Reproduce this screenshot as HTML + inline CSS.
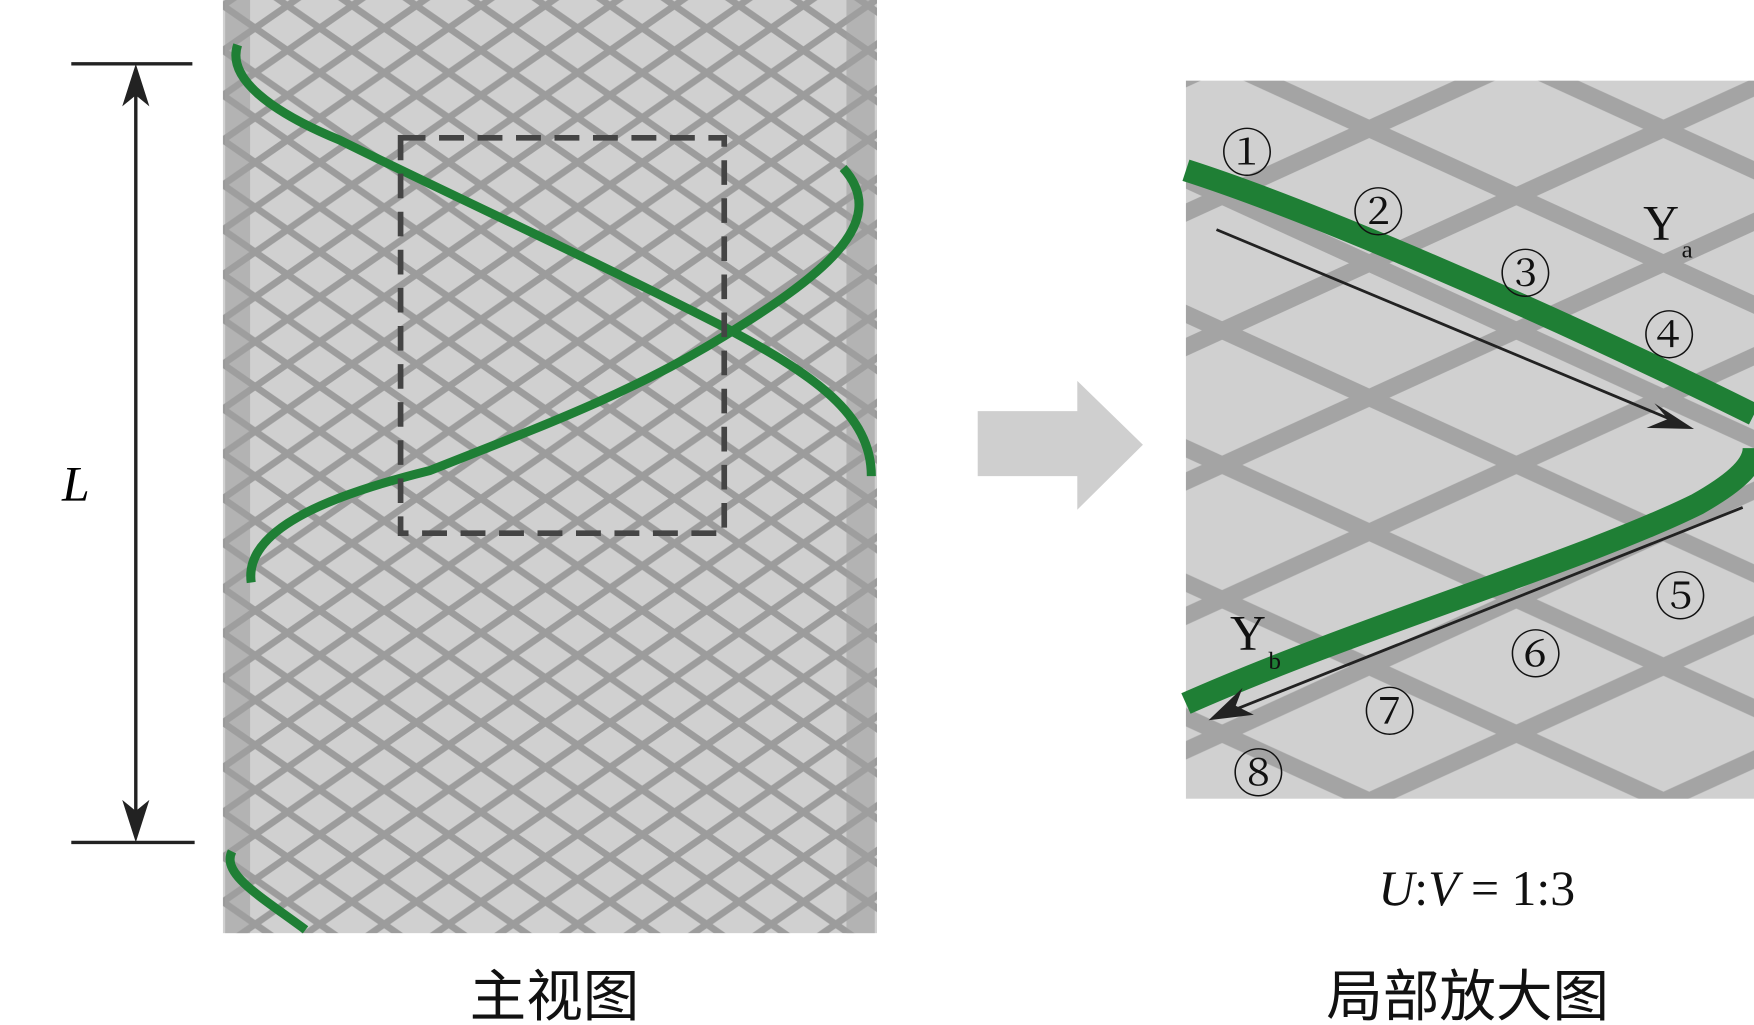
<!DOCTYPE html>
<html><head><meta charset="utf-8"><style>html,body{margin:0;padding:0;background:#fff}svg{display:block}</style></head>
<body>
<svg width="1754" height="1025" viewBox="0 0 1550 915" preserveAspectRatio="none" xmlns="http://www.w3.org/2000/svg">
<defs>
<pattern id="m1" patternUnits="userSpaceOnUse" x="197" y="5" width="57" height="40">
<rect width="57" height="40" fill="#d0d0d0"/>
<g stroke="#9c9c9c" stroke-width="6">
<line x1="-28.5" y1="-20" x2="85.5" y2="60"/><line x1="-28.5" y1="60" x2="85.5" y2="-20"/>
<line x1="-28.5" y1="20" x2="28.5" y2="60"/><line x1="28.5" y1="-20" x2="85.5" y2="20"/>
<line x1="-28.5" y1="20" x2="28.5" y2="-20"/><line x1="28.5" y1="60" x2="85.5" y2="20"/>
</g></pattern>
<pattern id="m2" patternUnits="userSpaceOnUse" x="1080" y="55" width="260" height="120">
<rect width="260" height="120" fill="#d0d0d0"/>
<g stroke="#a4a4a4" stroke-width="15">
<line x1="-130" y1="-60" x2="390" y2="180"/><line x1="-130" y1="180" x2="390" y2="-60"/>
<line x1="-130" y1="60" x2="130" y2="180"/><line x1="130" y1="-60" x2="390" y2="60"/>
<line x1="-130" y1="60" x2="130" y2="-60"/><line x1="130" y1="180" x2="390" y2="60"/>
</g></pattern>
</defs>
<rect x="197" y="0" width="578" height="833" fill="url(#m1)"/>
<rect x="199" y="0" width="22" height="833" fill="#a0a0a0" opacity="0.6"/>
<rect x="748" y="0" width="25" height="833" fill="#a0a0a0" opacity="0.6"/>
<g fill="none" stroke="#1f7f35" stroke-width="8">
<path d="M210 40 C200 70 240 100 300 125 C400 175 520 230 640 292 C720 335 770 370 770 425"/>
<path d="M222 520 C215 470 300 440 380 420 C480 380 560 350 640 300 C720 250 790 200 745 150"/>
<path d="M205 760 C195 780 230 800 270 830"/>
</g>
<rect x="354" y="123" width="286" height="353" fill="none" stroke="#444" stroke-width="5" stroke-dasharray="22 12"/>
<g stroke="#222" stroke-width="3"><line x1="63" y1="57" x2="170" y2="57"/><line x1="63" y1="752" x2="172" y2="752"/><line x1="120" y1="70" x2="120" y2="740"/></g>
<path d="M120 57 L108 95 L120 85 L132 95Z M120 752 L108 714 L120 724 L132 714Z" fill="#222"/>
<text x="67" y="447" font-family="Liberation Serif,serif" font-style="italic" font-size="44" text-anchor="middle">L</text>
<path d="M864 367 H952 V340 L1010 397 L952 455 V425 H864Z" fill="#cfcfcf"/>
<rect x="1048" y="72" width="502" height="641" fill="url(#m2)"/>
<g fill="none" stroke="#1f7f35">
<path d="M1048 152 C1150 185 1350 270 1550 370" stroke-width="20"/>
<path d="M1048 628 C1200 560 1400 500 1500 450 C1535 430 1550 415 1550 400" stroke-width="20"/>
</g>
<g stroke="#222" stroke-width="2.5"><line x1="1075" y1="205" x2="1485" y2="378"/><line x1="1540" y1="453" x2="1080" y2="638"/></g>
<path d="M1497 383 L1462 360 L1474 374 L1455 382Z M1068 643 L1108 638 L1092 630 L1098 614Z" fill="#222"/>
<g font-family="Liberation Serif,Noto Serif CJK SC,serif" font-size="46" text-anchor="middle" fill="#111">
<text x="1102" y="153">①</text><text x="1218" y="206">②</text><text x="1348" y="261">③</text><text x="1475" y="316">④</text>
<text x="1485" y="549">⑤</text><text x="1357" y="601">⑥</text><text x="1228" y="652">⑦</text><text x="1112" y="707">⑧</text>
</g>
<g font-family="Liberation Serif,serif" fill="#111">
<text x="1452" y="214" font-size="44">Y</text><text x="1486" y="230" font-size="22">a</text>
<text x="1087" y="580" font-size="44">Y</text><text x="1121" y="597" font-size="22">b</text>
<text x="1305" y="808" font-size="44" text-anchor="middle"><tspan font-style="italic">U</tspan>:<tspan font-style="italic">V</tspan> = 1:3</text>
</g>
<g font-family="Liberation Sans,Noto Sans CJK SC,sans-serif" font-size="50" text-anchor="middle" fill="#111">
<text x="490" y="907">主视图</text><text x="1297" y="907">局部放大图</text>
</g>
</svg>
</body></html>
